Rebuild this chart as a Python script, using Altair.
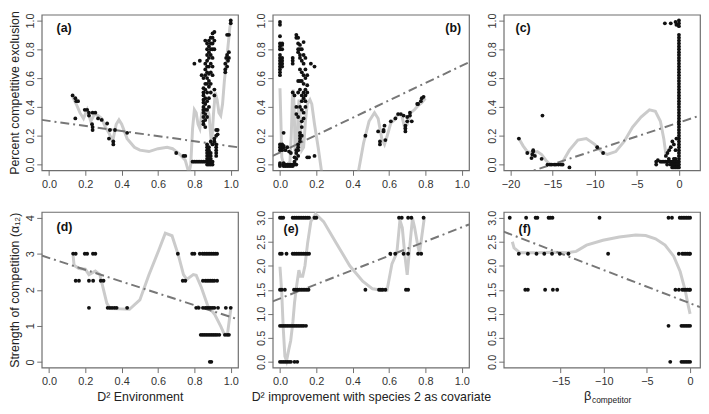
import altair as alt
import pandas as pd

# ---------------- data ----------------
# (a) Percent competitive exclusion vs D2 Environment
a_pts_x = [0.13, 0.145, 0.15, 0.16, 0.145, 0.197, 0.21, 0.22, 0.22, 0.24, 0.255, 0.237, 0.24, 0.24,
           0.27, 0.29, 0.32, 0.33, 0.335, 0.354, 0.354, 0.363, 0.43, 0.70, 0.74, 0.75,
           0.80, 0.83, 0.84, 0.928, 0.928,
           0.97, 0.97, 0.97, 0.975, 0.98, 0.98, 0.985, 0.99, 0.99, 1.0, 1.0, 0.99, 0.98]
a_pts_y = [0.48, 0.46, 0.44, 0.44, 0.32, 0.38, 0.38, 0.36, 0.34, 0.36, 0.36, 0.28, 0.26, 0.24,
           0.32, 0.31, 0.285, 0.18, 0.24, 0.16, 0.14, 0.24, 0.22, 0.08, 0.06, 0.06,
           0.70, 0.72, 0.62, 0.24, 0.21,
           0.64, 0.66, 0.70, 0.74, 0.76, 0.90, 0.72, 0.78, 0.90, 0.98, 1.0, 0.74, 0.68]
a_col_x = [0.85, 0.86, 0.87, 0.88, 0.89, 0.90, 0.91, 0.87, 0.88, 0.89, 0.90, 0.92, 0.91]
a_col_y = [[0.28, 0.30, 0.33, 0.36, 0.38, 0.40, 0.43, 0.45, 0.48, 0.50, 0.53, 0.60],
           [0.26, 0.31, 0.35, 0.38, 0.42, 0.46, 0.52, 0.56, 0.62, 0.66, 0.70, 0.86],
           [0.33, 0.38, 0.44, 0.50, 0.56, 0.60, 0.64, 0.68, 0.72, 0.76, 0.80, 0.84],
           [0.40, 0.46, 0.54, 0.58, 0.63, 0.68, 0.74, 0.78, 0.82, 0.86],
           [0.50, 0.56, 0.64, 0.70, 0.76, 0.80, 0.84, 0.88],
           [0.62, 0.68, 0.74, 0.80, 0.84, 0.88, 0.91],
           [0.48, 0.52, 0.80, 0.86, 0.92],
           [0.0, 0.02, 0.04, 0.06, 0.08, 0.10, 0.12, 0.14],
           [0.0, 0.02, 0.04, 0.06, 0.08, 0.10, 0.12],
           [0.0, 0.02, 0.04, 0.06, 0.08, 0.16],
           [0.0, 0.02, 0.14],
           [0.06, 0.08, 0.10, 0.12, 0.14, 0.20, 0.24],
           [0.16, 0.18]]
a_row_y = [0.02]
a_row_x = [[0.79, 0.80, 0.81, 0.82, 0.83, 0.84, 0.85, 0.86]]
a_curve_x = [0.13, 0.15, 0.17, 0.19, 0.21, 0.23, 0.25, 0.27, 0.29, 0.31, 0.33, 0.35, 0.37, 0.385, 0.40,
             0.43, 0.47, 0.50, 0.55, 0.60, 0.65, 0.68, 0.72, 0.75, 0.77, 0.78, 0.79, 0.80, 0.81, 0.82,
             0.83, 0.84, 0.85, 0.87, 0.88, 0.89, 0.895, 0.905, 0.915, 0.925, 0.935, 0.945, 0.955,
             0.965, 0.975, 0.985, 0.995, 1.0]
a_curve_y = [0.47, 0.42, 0.36, 0.32, 0.38, 0.30, 0.35, 0.34, 0.32, 0.26, 0.22, 0.16, 0.28, 0.31, 0.28,
             0.18, 0.12, 0.10, 0.09, 0.11, 0.12, 0.11, 0.07, 0.03, -0.06, 0.00, 0.25, 0.38, 0.36, 0.28,
             0.25, 0.35, 0.40, 0.38, 0.35, 0.20, 0.14, 0.35, 0.50, 0.45, 0.36, 0.34, 0.42,
             0.58, 0.70, 0.82, 0.95, 0.99]
a_trend_x = [-0.04, 1.04]
a_trend_y = [0.31, 0.12]

# (b) vs D2 improvement with species 2 as covariate
b_pts_x = [0.47, 0.54, 0.55, 0.55, 0.57, 0.57, 0.575, 0.58, 0.61, 0.635, 0.65, 0.665, 0.68, 0.69,
           0.69, 0.69, 0.70, 0.70, 0.715, 0.715, 0.725, 0.755, 0.76, 0.775, 0.78, 0.79]
b_pts_y = [0.20, 0.23, 0.16, 0.14, 0.23, 0.24, 0.27, 0.17, 0.30, 0.32, 0.35, 0.35, 0.34, 0.27,
           0.25, 0.23, 0.30, 0.33, 0.36, 0.34, 0.30, 0.42, 0.42, 0.44, 0.46, 0.47]
b_col_x = [0.0, 0.012, 0.0, 0.02, 0.03, 0.04, 0.05, 0.06, 0.07, 0.08, 0.09, 0.10, 0.11, 0.12,
           0.13, 0.14, 0.15, 0.16, 0.17, 0.19]
b_col_y = [[0.99, 0.97, 0.89, 0.84, 0.82, 0.80, 0.76, 0.74, 0.72, 0.70, 0.68, 0.66, 0.64, 0.62],
           [0.84, 0.83, 0.80, 0.74, 0.72, 0.70, 0.68, 0.12, 0.10, 0.14],
           [0.14, 0.12, 0.10, 0.0, -0.01, 0.01],
           [0.22, 0.13, 0.12, 0.0, -0.01, 0.01],
           [0.10, 0.0, -0.01],
           [0.12, 0.0, -0.01],
           [0.09, 0.0, -0.01],
           [0.08, 0.0, -0.01],
           [0.74, 0.72, 0.70, 0.50, 0.0, -0.01],
           [0.48, 0.0, 0.02, 0.05],
           [0.90, 0.88, 0.40, 0.35, 0.0, 0.04, 0.08, 0.10],
           [0.88, 0.84, 0.80, 0.78, 0.58, 0.50, 0.33, 0.06, 0.10, 0.12, 0.14],
           [0.83, 0.80, 0.76, 0.74, 0.66, 0.58, 0.52, 0.40, 0.16, 0.18, 0.20, 0.22],
           [0.80, 0.72, 0.64, 0.58, 0.48, 0.44, 0.38, 0.26, 0.30, 0.20],
           [0.85, 0.76, 0.70, 0.62, 0.56, 0.50, 0.46, 0.36, 0.32],
           [0.74, 0.66, 0.60, 0.52, 0.48, 0.44, 0.40],
           [0.62, 0.55, 0.50, 0.05],
           [0.05],
           [0.70],
           [0.68, 0.06]]
b_curve_x = [0.0, 0.005, 0.01, 0.02, 0.04, 0.055, 0.062, 0.068, 0.073, 0.078, 0.083, 0.088, 0.095, 0.1,
             0.105, 0.11, 0.115, 0.12, 0.13, 0.14, 0.15, 0.165, 0.175, 0.19, 0.21, 0.23, 0.33, 0.43,
             0.46, 0.49, 0.52, 0.54, 0.56, 0.575, 0.59, 0.61, 0.63, 0.65, 0.67, 0.685, 0.70, 0.72,
             0.74, 0.76, 0.78, 0.80]
b_curve_y = [0.53, 0.3, 0.05, 0.0, 0.0, 0.02, 0.2, 0.45, 0.52, 0.4, 0.1, 0.05, 0.2, 0.37,
             0.45, 0.38, 0.2, 0.1, 0.12, 0.3, 0.42, 0.45, 0.42, 0.28, 0.12, -0.06, -0.5, -0.06,
             0.15, 0.3, 0.36, 0.32, 0.18, 0.14, 0.2, 0.29, 0.31, 0.35, 0.34, 0.26, 0.28, 0.36,
             0.38, 0.41, 0.43, 0.46]
b_trend_x = [-0.04, 1.04]
b_trend_y = [0.06, 0.71]

# (c) vs beta competitor
c_pts_x = [-19.0, -18.0, -17.4, -17.3, -17.3, -17.5, -17.1, -16.3, -16.2, -15.6, -15.3, -15.1, -14.8,
           -14.6, -14.3, -14.0, -13.8, -13.0, -9.7, -9.0,
           -2.7, -2.7, -2.5, -1.55, -1.36, -1.16, -0.97, -0.78, -0.6, -0.4, -0.3,
           -1.67, -0.97, -0.4, -0.3, 0.0, 0.0, 0.0]
c_pts_y = [0.18, 0.08, 0.07, 0.09, 0.10, 0.045, 0.06, 0.04, 0.34, 0.0, 0.0, 0.0, 0.0,
           0.0, 0.0, 0.0, 0.0, -0.02, 0.12, 0.08,
           0.02, 0.0, 0.03, 0.06, 0.08, 0.10, 0.12, 0.16, 0.14, 0.10, 0.18,
           0.98, 0.98, 0.99, 0.97, 1.0, 0.98, 0.96]
c_row_y = [0.02, 0.0, -0.02, 0.04]
c_row_x = [[-2.2, -2.0, -1.8, -1.6, -1.4, -1.2, -1.0, -0.8, -0.6, -0.4, -0.2],
           [-1.4, -1.0, -0.8, -0.6, -0.4, -0.2],
           [-0.8, -0.6, -0.4, -0.2, 0.0],
           [-1.2, -0.6, -0.4]]
c_col_x = [0.0]
c_col_y = [[0.00, 0.02, 0.04, 0.06, 0.08, 0.10, 0.12, 0.14, 0.16, 0.18, 0.20, 0.22, 0.24, 0.26, 0.28,
            0.30, 0.32, 0.34, 0.36, 0.38, 0.40, 0.42, 0.44, 0.46, 0.48, 0.50, 0.52, 0.54, 0.56, 0.58,
            0.60, 0.62, 0.64, 0.66, 0.68, 0.70, 0.72, 0.74, 0.76, 0.78, 0.80, 0.82, 0.84, 0.86, 0.88,
            0.90]]
c_curve_x = [-19.0, -18.5, -18.0, -17.3, -16.8, -16.3, -15.8, -15.3, -14.5, -13.8, -13.0, -12.0, -11.0,
             -10.0, -9.2, -8.5, -7.5, -6.5, -5.5, -4.5, -3.5, -2.8, -2.2, -1.8, -1.55]
c_curve_y = [0.18, 0.13, 0.09, 0.08, 0.09, 0.07, 0.03, 0.0, 0.0, 0.02, 0.10, 0.17, 0.18,
             0.14, 0.09, 0.07, 0.09, 0.16, 0.26, 0.33, 0.38, 0.37, 0.30, 0.18, 0.07]
c_trend_x = [-20.8, 2.5]
c_trend_y = [-0.11, 0.34]

# (d) Strength of competition vs D2 Environment
d_row_y = [3.0, 2.25, 1.5, 0.75, 0.0]
d_row_x = [[0.133, 0.147, 0.197, 0.21, 0.242, 0.255, 0.709, 0.788, 0.80, 0.83, 0.845, 0.855, 0.865,
            0.875, 0.885, 0.895, 0.905, 0.915, 0.925],
           [0.147, 0.165, 0.22, 0.243, 0.285, 0.30, 0.736, 0.75, 0.847, 0.86, 0.87, 0.88, 0.89, 0.90,
            0.91, 0.925],
           [0.22, 0.323, 0.335, 0.347, 0.36, 0.372, 0.43, 0.81, 0.824, 0.847, 0.86, 0.87, 0.88, 0.89,
            0.90, 0.91, 0.93, 0.973, 1.0],
           [0.835, 0.845, 0.855, 0.865, 0.875, 0.885, 0.895, 0.905, 0.915, 0.925, 0.937, 0.968, 0.98,
            0.99],
           [0.885, 0.893]]
d_curve_x = [0.133, 0.138, 0.165, 0.2, 0.22, 0.255, 0.28, 0.318, 0.336, 0.39, 0.443, 0.5, 0.55, 0.605,
             0.64, 0.677, 0.713, 0.74, 0.758, 0.794, 0.81, 0.838, 0.874, 0.91, 0.946, 0.964, 0.982, 1.0]
d_curve_y = [2.94, 2.68, 2.59, 2.57, 2.42, 2.52, 2.42, 1.63, 1.48, 1.47, 1.46, 1.72, 2.42, 3.11,
             3.57, 3.5, 2.94, 2.42, 2.29, 2.42, 2.4, 2.07, 1.55, 1.33, 0.98, 0.77, 0.77, 1.46]
d_trend_x = [-0.04, 1.04]
d_trend_y = [2.95, 1.18]

# (e)
e_row_y = [3.0, 2.25, 1.5, 0.75, 0.0]
e_row_x = [[0.0, 0.009, 0.018, 0.07, 0.08, 0.09, 0.10, 0.11, 0.12, 0.13, 0.14, 0.15, 0.16, 0.19, 0.20,
            0.655, 0.67, 0.705, 0.723, 0.79],
           [0.0, 0.01, 0.036, 0.07, 0.08, 0.09, 0.10, 0.11, 0.12, 0.13, 0.14, 0.15, 0.16, 0.607, 0.634,
            0.68, 0.705, 0.76, 0.777],
           [0.0, 0.01, 0.027, 0.077, 0.087, 0.097, 0.107, 0.117, 0.127, 0.137, 0.147, 0.157, 0.47, 0.545,
            0.555, 0.565, 0.58, 0.693, 0.705],
           [0.0, 0.01, 0.02, 0.03, 0.04, 0.05, 0.06, 0.07, 0.08, 0.09, 0.10, 0.11, 0.12, 0.13, 0.143],
           [0.0, 0.01, 0.02, 0.03, 0.04, 0.05, 0.06, 0.08, 0.095]]
e_curve_x = [0.0, 0.009, 0.018, 0.027, 0.036, 0.048, 0.059, 0.071, 0.08, 0.093, 0.104, 0.113, 0.125,
             0.1375, 0.152, 0.17, 0.196, 0.24, 0.31, 0.384, 0.455, 0.509, 0.5625, 0.589, 0.616, 0.643,
             0.66, 0.673, 0.6875, 0.70, 0.714, 0.729, 0.741, 0.759, 0.768, 0.782, 0.795]
e_curve_y = [1.98, 1.49, 0.7, 0.12, 0.02, 0.25, 0.44, 0.83, 1.23, 1.62, 1.91, 1.78, 1.78,
             2.0, 2.47, 2.92, 3.08, 2.92, 2.47, 2.0, 1.68, 1.52, 1.49, 1.49, 2.04, 2.27,
             2.95, 2.79, 2.2, 1.81, 2.4, 2.99, 2.79, 2.4, 2.27, 2.66, 3.02]
e_trend_x = [-0.04, 1.04]
e_trend_y = [1.26, 2.86]

# (f)
f_row_y = [3.0, 2.25, 1.5, 0.75, 0.0]
f_row_x = [[-20.9, -19.0, -17.9, -17.7, -16.4, -16.2, -15.95, -10.5, -2.5, -2.1, -1.2, -1.0, -0.8, -0.6,
            -0.4, -0.2, 0.0],
           [-19.85, -18.8, -17.8, -16.9, -16.0, -15.1, -14.1, -9.5, -1.3, -0.9, -0.7, -0.5, -0.3, -0.1,
            0.0],
           [-19.1, -18.8, -16.8, -15.9, -15.4, -1.7, -1.3, -0.9, -0.7, -0.5, -0.3, -0.1, 0.0],
           [-2.5, -1.0, -0.8, -0.6, -0.4, -0.2, 0.0],
           [-2.3, -1.0, -0.8, -0.6, -0.4, -0.2, 0.0]]
f_curve_x = [-20.6, -20.4, -19.7, -17.7, -15.8, -14.3, -13.2, -12.0, -10.1, -8.2, -6.3, -5.15, -4.0,
             -2.9, -1.9, -1.15, -0.57, -0.2, 0.0]
f_curve_y = [2.5, 2.37, 2.27, 2.27, 2.28, 2.27, 2.3, 2.43, 2.53, 2.6, 2.64, 2.63, 2.56,
             2.43, 2.2, 1.88, 1.49, 1.16, 1.0]
f_trend_x = [-21.6, 1.15]
f_trend_y = [2.71, 1.14]

unit_ticks = [0.0, 0.2, 0.4, 0.6, 0.8, 1.0]
beta_ticks_c = [-20, -15, -10, -5, 0]
beta_ticks_f = [-15, -10, -5, 0]
alpha_ticks_d = [0, 1, 2, 3, 4]
alpha_ticks_e = [0.0, 0.5, 1.0, 1.5, 2.0, 2.5, 3.0]

# ---------------- helpers ----------------
W, H = 198, 157
FONT = "Liberation Sans"


def build_points(px=(), py=(), col_x=(), col_y=(), row_y=(), row_x=()):
    xs, ys = list(px), list(py)
    for cx, cys in zip(col_x, col_y):
        xs += [cx] * len(cys)
        ys += list(cys)
    for ry, rxs in zip(row_y, row_x):
        xs += list(rxs)
        ys += [ry] * len(rxs)
    return pd.DataFrame({"x": xs, "y": ys})


def panel(pts, cx, cy, tx, ty, xdom, ydom, xticks, yticks, xfmt, yfmt,
          label, lab_x, lab_y, lab_align, ytitle=None, xtitle=None, extra=()):
    xkw = dict(values=xticks, format=xfmt)
    ykw = dict(values=yticks, format=yfmt)
    xenc = alt.X("x:Q", scale=alt.Scale(domain=xdom, nice=False, zero=False),
                 axis=alt.Axis(**xkw), title=xtitle)
    yenc = alt.Y("y:Q", scale=alt.Scale(domain=ydom, nice=False, zero=False),
                 axis=alt.Axis(**ykw), title=ytitle)
    curve = alt.Chart(pd.DataFrame({"x": cx, "y": cy})).mark_line(
        color="#cbcbcb", strokeWidth=3, clip=True).encode(x=xenc, y=yenc)
    trend = alt.Chart(pd.DataFrame({"x": tx, "y": ty})).mark_line(
        color="#777777", strokeWidth=2, strokeDash=[9, 4, 2, 4], clip=True).encode(x=xenc, y=yenc)
    dots = alt.Chart(pts).mark_circle(color="#111111", size=15, opacity=1).encode(x=xenc, y=yenc)
    lab = alt.Chart(pd.DataFrame({"t": [label]})).mark_text(
        font=FONT, fontSize=12.5, fontWeight="bold", align=lab_align, baseline="middle",
        color="#111111").encode(text="t:N", x=alt.value(lab_x), y=alt.value(lab_y))
    layers = [curve, trend, dots, lab] + list(extra)
    return alt.layer(*layers).properties(width=W, height=H)


pa = panel(build_points(a_pts_x, a_pts_y, a_col_x, a_col_y, a_row_y, a_row_x),
           a_curve_x, a_curve_y, a_trend_x, a_trend_y, [-0.04, 1.04], [-0.04, 1.04],
           unit_ticks, unit_ticks, ".1f", ".1f", "(a)", 15, 13, "left",
           ytitle="Percent competitive exclusion")
pb = panel(build_points(b_pts_x, b_pts_y, b_col_x, b_col_y),
           b_curve_x, b_curve_y, b_trend_x, b_trend_y, [-0.04, 1.04], [-0.04, 1.04],
           unit_ticks, unit_ticks, ".1f", ".1f", "(b)", W - 8, 13, "right")
pc = panel(build_points(c_pts_x, c_pts_y, c_col_x, c_col_y, c_row_y, c_row_x),
           c_curve_x, c_curve_y, c_trend_x, c_trend_y, [-20.8, 2.5], [-0.04, 1.04],
           beta_ticks_c, unit_ticks, "d", ".1f", "(c)", 12, 13, "left")
pd_ = panel(build_points(row_y=d_row_y, row_x=d_row_x),
            d_curve_x, d_curve_y, d_trend_x, d_trend_y, [-0.04, 1.04], [-0.16, 4.16],
            unit_ticks, alpha_ticks_d, ".1f", "d", "(d)", 15, 15, "left",
            ytitle="Strength of competition (α₁₂)", xtitle="D² Environment")
pe = panel(build_points(row_y=e_row_y, row_x=e_row_x),
           e_curve_x, e_curve_y, e_trend_x, e_trend_y, [-0.04, 1.04], [-0.12, 3.12],
           unit_ticks, alpha_ticks_e, ".1f", ".1f", "(e)", 11, 17, "left",
           xtitle="D² improvement with species 2 as covariate")

beta_main = alt.Chart(pd.DataFrame({"t": ["β"]})).mark_text(
    font=FONT, fontSize=13, align="left", baseline="alphabetic", color="#222222").encode(
    text="t:N", x=alt.value(W / 2 - 18), y=alt.value(H + 33))
beta_sub = alt.Chart(pd.DataFrame({"t": ["competitor"]})).mark_text(
    font=FONT, fontSize=8.5, align="left", baseline="alphabetic", color="#222222").encode(
    text="t:N", x=alt.value(W / 2 - 10), y=alt.value(H + 36))
pf = panel(build_points(row_y=f_row_y, row_x=f_row_x),
           f_curve_x, f_curve_y, f_trend_x, f_trend_y, [-21.6, 1.15], [-0.12, 3.12],
           beta_ticks_f, alpha_ticks_e, "d", ".1f", "(f)", 15, 17, "left",
           extra=(beta_main, beta_sub))

chart = alt.concat(pa, pb, pc, pd_, pe, pf, columns=3,
                   spacing={"row": 42, "column": 35}, bounds="flush").properties(
    padding={"left": 0, "top": 0, "right": 0, "bottom": 0},
    background="white",
).configure_view(
    stroke="#6e6e6e", strokeWidth=1.2
).configure_axis(
    domain=False, grid=False, tickColor="#6e6e6e", tickSize=5, tickWidth=1,
    labelColor="#333333", labelFont=FONT, labelFontSize=11, labelOverlap=False,
    titleFont=FONT, titleFontSize=12.5, titleFontWeight="normal", titleColor="#222222"
).configure_axisX(
    labelPadding=3, titlePadding=4
).configure_axisY(
    labelAngle=270, labelAlign="center", labelBaseline="bottom", labelPadding=1, titlePadding=3
)

chart.save("out.html", embed_options={"renderer": "svg", "actions": False})
